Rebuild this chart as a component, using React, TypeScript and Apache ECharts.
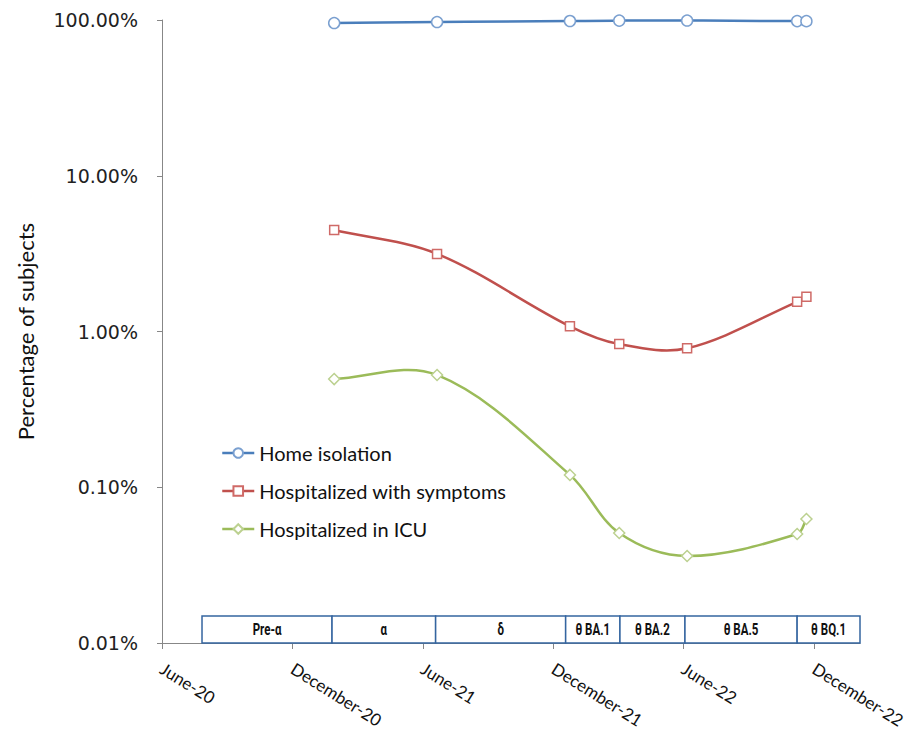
import React, { useEffect, useRef } from "react";
import * as echarts from "echarts";

const ts = (s: string) => +new Date(s + "T00:00:00Z");

const tickDates = ["2020-06-01", "2020-12-01", "2021-06-01", "2021-12-01", "2022-06-01", "2022-12-01"];
const tickLabels = ["June-20", "December-20", "June-21", "December-21", "June-22", "December-22"];

const pointDates = ["2021-01-28", "2021-06-21", "2021-12-24", "2022-03-03", "2022-06-06", "2022-11-07", "2022-11-20"];
const homeIsolation = [95.6, 97.0, 98.5, 99.1, 99.2, 98.4, 98.3];
const hospSymptoms = [4.48, 3.15, 1.08, 0.83, 0.78, 1.55, 1.67];
const hospICU = [0.495, 0.526, 0.12, 0.0508, 0.0362, 0.0501, 0.0625];

const variantLabels = ["Pre-α", "α", "δ", "θ BA.1", "θ BA.2", "θ BA.5", "θ BQ.1"];
const variantStarts = ["2020-07-27", "2021-01-25", "2021-06-19", "2021-12-18", "2022-03-04", "2022-06-03", "2022-11-07"];
const variantEnds = ["2021-01-25", "2021-06-19", "2021-12-18", "2022-03-04", "2022-06-03", "2022-11-07", "2023-02-03"];

const seriesNames = ["Home isolation", "Hospitalized with symptoms", "Hospitalized in ICU"];
const lineColors = ["#4A7EBB", "#C0504D", "#9BBB59"];
const markerBorders = ["#7BA0D0", "#CF6A67", "#BCD190"];

const W = 910;
const H = 733;

export default function App() {
  const ref = useRef<HTMLDivElement>(null);
  useEffect(() => {
    if (!ref.current) return;
    document.body.style.margin = "0";
    document.body.style.overflow = "hidden";
    const chart = echarts.init(ref.current, null, { renderer: "svg", width: W, height: H });
    const tickValues = tickDates.map(ts);
    const mk = (vals: number[]) => vals.map((v, i) => [ts(pointDates[i]), v]);
    const variantData = variantLabels.map((l, i) => [ts(variantStarts[i]), ts(variantEnds[i]), l]);
    const font = "Lato, 'Noto Sans', sans-serif";
    const allData = [mk(homeIsolation), mk(hospSymptoms), mk(hospICU)];

    const smoothSeries = (k: number) => ({
      type: "custom",
      name: seriesNames[k] + " curve",
      clip: false,
      silent: true,
      data: allData[k],
      encode: { x: 0, y: 1 },
      z: 2,
      renderItem: (params: any, api: any) => {
        const i = params.dataIndex;
        const d = allData[k];
        const n = d.length;
        if (i >= n - 1) return { type: "group", children: [] };
        const P = d.map((p) => api.coord(p));
        const dist = (a: number[], b: number[]) => Math.hypot(b[0] - a[0], b[1] - a[1]);
        const tangent = (j: number) => {
          const a = P[Math.max(0, j - 1)];
          const b = P[Math.min(n - 1, j + 1)];
          const L = dist(a, b) || 1;
          return [(b[0] - a[0]) / L, (b[1] - a[1]) / L];
        };
        const p0 = P[i];
        const p1 = P[i + 1];
        const len = dist(p0, p1);
        const t0 = tangent(i);
        const t1 = tangent(i + 1);
        const f = len / 3;
        return {
          type: "bezierCurve",
          shape: {
            x1: p0[0],
            y1: p0[1],
            cpx1: p0[0] + t0[0] * f,
            cpy1: p0[1] + t0[1] * f,
            cpx2: p1[0] - t1[0] * f,
            cpy2: p1[1] - t1[1] * f,
            x2: p1[0],
            y2: p1[1],
          },
          style: { stroke: lineColors[k], lineWidth: 2.5, fill: null },
        };
      },
    });

    const markerSeries = (k: number, symbol: string, size: any) => ({
      name: seriesNames[k],
      type: "line",
      data: allData[k],
      symbol,
      symbolSize: size,
      lineStyle: { color: lineColors[k], width: 0, opacity: 0 },
      itemStyle: { color: "#fff", borderColor: markerBorders[k], borderWidth: 1.5 },
      z: 3,
    });

    chart.setOption({
      animation: false,
      backgroundColor: "#fff",
      grid: { left: 162, right: 50, top: 20, bottom: 90, containLabel: false, outerBoundsMode: "none" },
      legend: {
        data: seriesNames.map((name, k) => ({
          name,
          lineStyle: { color: lineColors[k], width: 2.5, opacity: 1 },
        })),
        orient: "vertical",
        left: 221,
        top: 443,
        padding: 0,
        itemWidth: 32,
        itemHeight: 12,
        itemGap: 18,
        textStyle: { fontFamily: font, fontSize: 20, color: "#111" },
      },
      xAxis: {
        type: "value",
        min: ts("2020-06-01"),
        max: ts("2023-02-03"),
        axisLine: { show: true, lineStyle: { color: "#878787", width: 1 } },
        axisTick: { show: true, length: 6, customValues: tickValues, lineStyle: { color: "#878787" } },
        splitLine: { show: false },
        axisLabel: {
          customValues: tickValues,
          rotate: -32,
          margin: 24,
          fontFamily: font,
          fontSize: 17,
          color: "#111",
          formatter: (v: number) => {
            const i = tickValues.indexOf(v);
            return i >= 0 ? tickLabels[i] : "";
          },
        },
      },
      yAxis: {
        type: "log",
        logBase: 10,
        min: 0.01,
        max: 100,
        name: "Percentage of subjects",
        nameLocation: "middle",
        nameGap: 126,
        nameRotate: 90,
        nameTextStyle: { fontFamily: font, fontSize: 22, color: "#111" },
        axisLine: { show: true, lineStyle: { color: "#878787", width: 1 } },
        axisTick: { show: true, length: 5, lineStyle: { color: "#878787" } },
        splitLine: { show: false },
        axisLabel: {
          margin: 24,
          fontFamily: "'DejaVu Sans', sans-serif",
          fontSize: 19,
          color: "#222",
          formatter: (v: number) => v.toFixed(2) + "%",
        },
      },
      series: [
        smoothSeries(0),
        smoothSeries(1),
        smoothSeries(2),
        markerSeries(0, "circle", 11),
        markerSeries(1, "rect", 9),
        markerSeries(2, "diamond", [11, 11]),
        {
          type: "custom",
          name: "variants",
          clip: false,
          silent: true,
          data: variantData,
          encode: { x: [0, 1] },
          z: 5,
          renderItem: (params: any, api: any) => {
            const s = api.coord([api.value(0), 0.01]);
            const e = api.coord([api.value(1), 0.01]);
            const h = 27;
            const label = variantData[params.dataIndex][2] as string;
            return {
              type: "group",
              children: [
                {
                  type: "rect",
                  shape: { x: s[0], y: s[1] - h, width: e[0] - s[0], height: h },
                  style: { fill: "#fff", stroke: "#3565A0", lineWidth: 1.5 },
                },
                {
                  type: "text",
                  x: (s[0] + e[0]) / 2,
                  y: s[1] - h / 2,
                  scaleX: 0.72,
                  style: {
                    text: label,
                    align: "center",
                    verticalAlign: "middle",
                    fontFamily: "Roboto, 'Liberation Sans', sans-serif",
                    fontWeight: "bold",
                    fontSize: 16,
                    fill: "#111",
                  },
                },
              ],
            };
          },
        },
      ],
    });
    return () => chart.dispose();
  }, []);
  return <div ref={ref} style={{ width: W, height: H }} />;
}
